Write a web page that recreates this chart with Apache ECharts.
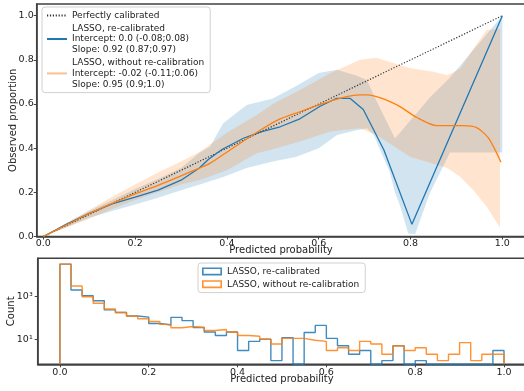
<!DOCTYPE html>
<html><head><meta charset="utf-8">
<script src="https://cdn.jsdelivr.net/npm/echarts@6/dist/echarts.min.js"></script>
<style>html,body{margin:0;padding:0;background:#fff}#c{width:524px;height:391px}</style>
</head><body><div id="c"></div>
<script>
// ---------- data ----------
const probTicks = [0, 0.2, 0.4, 0.6, 0.8, 1.0];
const perfectX = [0, 1];
const perfectY = [0, 1];

const recalX = [0, 0.05, 0.1, 0.15, 0.2, 0.25, 0.3, 0.34, 0.36, 0.39, 0.436, 0.472, 0.516, 0.559, 0.603, 0.639, 0.668, 0.697, 0.742, 0.803, 1.0];
const recalY = [0, 0.055, 0.105, 0.148, 0.178, 0.21, 0.255, 0.31, 0.35, 0.395, 0.445, 0.473, 0.497, 0.533, 0.59, 0.626, 0.626, 0.575, 0.392, 0.055, 1.0];

const noRecalX = [0, 0.05, 0.1, 0.15, 0.2, 0.25, 0.3, 0.34, 0.363, 0.407, 0.458, 0.508, 0.559, 0.61, 0.646, 0.69, 0.705, 0.741, 0.777, 0.813, 0.857, 0.915, 0.944, 0.97, 0.997];
const noRecalY = [0, 0.052, 0.104, 0.15, 0.193, 0.232, 0.275, 0.31, 0.331, 0.392, 0.462, 0.525, 0.565, 0.603, 0.626, 0.641, 0.641, 0.623, 0.588, 0.54, 0.502, 0.502, 0.493, 0.445, 0.336];

const recalBandX  = [0, 0.05, 0.1, 0.15, 0.2, 0.25, 0.3, 0.341, 0.363, 0.392, 0.443, 0.5, 0.55, 0.6, 0.64, 0.68, 0.705, 0.72, 0.755, 0.766, 0.777, 0.795, 0.81, 0.842, 0.886, 1.0];
const recalBandHi = [0, 0.06, 0.115, 0.165, 0.215, 0.26, 0.31, 0.38, 0.407, 0.513, 0.596, 0.625, 0.68, 0.74, 0.755, 0.73, 0.709, 0.64, 0.49, 0.445, 0.47, 0.515, 0.55, 0.63, 0.72, 1.0];
const recalBandLo = [0, 0.042, 0.085, 0.115, 0.145, 0.175, 0.21, 0.235, 0.25, 0.27, 0.31, 0.34, 0.36, 0.4, 0.46, 0.48, 0.49, 0.46, 0.29, 0.2, 0.14, 0.014, 0.01, 0.196, 0.38, 0.38];

const noRecalBandX  = [0, 0.05, 0.1, 0.15, 0.2, 0.25, 0.3, 0.341, 0.4, 0.465, 0.5, 0.559, 0.625, 0.69, 0.726, 0.755, 0.8, 0.85, 0.88, 0.908, 0.937, 0.966, 0.995];
const noRecalBandLo = [0, 0.04, 0.08, 0.125, 0.165, 0.2, 0.235, 0.256, 0.3, 0.377, 0.395, 0.43, 0.475, 0.49, 0.46, 0.42, 0.36, 0.33, 0.31, 0.271, 0.21, 0.135, 0.04];
const noRecalBandHi = [0, 0.06, 0.12, 0.18, 0.235, 0.29, 0.34, 0.384, 0.47, 0.55, 0.6, 0.663, 0.739, 0.8, 0.81, 0.79, 0.762, 0.746, 0.73, 0.76, 0.85, 0.935, 0.94];

const binEdges = [0, 0.025, 0.05, 0.075, 0.1, 0.125, 0.15, 0.175, 0.2, 0.225, 0.25, 0.275, 0.3, 0.325, 0.35, 0.375, 0.4, 0.425, 0.45, 0.475, 0.5, 0.525, 0.55, 0.575, 0.6, 0.625, 0.65, 0.675, 0.7, 0.725, 0.75, 0.775, 0.8, 0.825, 0.85, 0.875, 0.9, 0.925, 0.95, 0.975, 1.0];
const countsRecal   = [34000, 2050, 1100, 650, 240, 180, 125, 110, 55, 47, 107, 75, 36, 22, 15, 22, 3, 8, 10, 1, 12, 0, 21, 45, 11, 5, 2, 3, 0, 1, 5, 0, 1, 0, 0, 0, 0, 0, 0, 3];
const countsNoRecal = [34000, 3200, 1000, 490, 265, 180, 125, 92, 68, 50, 35, 40, 36, 26, 29, 22, 15, 14, 10, 6, 11, 11, 9, 8, 3, 4, 3, 8, 6, 2, 5, 3, 4, 2, 1, 2, 7, 1, 2, 2];
const countTicks = [10, 1000];
const countTickLabels = ['10\u00b9', '10\u00b3'];

const legendTop = {
  perfect: 'Perfectly calibrated',
  recal: 'LASSO, re-calibrated\nIntercept: 0.0 (-0.08;0.08)\nSlope: 0.92 (0.87;0.97)',
  norecal: 'LASSO, without re-calibration\nIntercept: -0.02 (-0.11;0.06)\nSlope: 0.95 (0.9;1.0)'
};
const legendBottom = {
  hrecal: 'LASSO, re-calibrated',
  hnorecal: 'LASSO, without re-calibration'
};

// ---------- chart ----------
const FONT = 'DejaVu Sans';
const BLUE = '#1f77b4', ORANGE = '#ff7f0e';
const SPINE = '#404040';
const COUNT_MIN = 0.67, COUNT_MAX = 63500;

function pairs(xs, ys) { return xs.map((x, i) => [x, ys[i]]); }

function band(xs, lo, hi, color) {
  return {
    type: 'custom', xAxisIndex: 0, yAxisIndex: 0, silent: true, z: 1,
    data: [[xs[0], lo[0]]],
    renderItem: function (params, api) {
      if (params.dataIndex !== 0) return null;
      const pts = [];
      for (let i = 0; i < xs.length; i++) pts.push(api.coord([xs[i], hi[i]]));
      for (let i = xs.length - 1; i >= 0; i--) pts.push(api.coord([xs[i], lo[i]]));
      return { type: 'polygon', shape: { points: pts }, style: { fill: color, opacity: 0.2 } };
    }
  };
}

function steps(counts) {
  const v = c => (c > 0 ? c : COUNT_MIN);
  const d = [[binEdges[0], COUNT_MIN]];
  for (let i = 0; i < counts.length; i++) d.push([binEdges[i], v(counts[i])]);
  d.push([binEdges[counts.length], v(counts[counts.length - 1])]);
  d.push([binEdges[counts.length], COUNT_MIN]);
  return d;
}

const txt = { fontFamily: FONT, fontSize: 9.5, color: '#222' };
const nameTxt = { fontFamily: FONT, fontSize: 10, color: '#222' };
const rectIcon = 'path://M0,0L20,0L20,8L0,8Z M1.6,1.6L1.6,6.4L18.4,6.4L18.4,1.6Z';
const noSym = { opacity: 0 };

const option = {
  animation: false,
  backgroundColor: '#fff',
  textStyle: { fontFamily: FONT },
  grid: [
    { left: 36.7, top: 4, width: 488.6, height: 232.5, containLabel: false, outerBoundsMode: 'none', show: true, borderColor: SPINE, borderWidth: 1.5, backgroundColor: 'transparent' },
    { left: 37.7, top: 258.3, width: 488.5, height: 106, containLabel: false, outerBoundsMode: 'none', show: true, borderColor: SPINE, borderWidth: 1.5, backgroundColor: 'transparent' }
  ],
  xAxis: [
    {
      type: 'value', gridIndex: 0, min: -0.0144, max: 1.05,
      axisLine: { show: true, onZero: false, lineStyle: { color: SPINE, width: 1.5 } },
      axisTick: { show: true, customValues: probTicks, length: 3, lineStyle: { color: SPINE } },
      axisLabel: Object.assign({ customValues: probTicks, margin: 2.5, formatter: v => v.toFixed(1) }, txt),
      splitLine: { show: false },
      name: 'Predicted probability', nameLocation: 'middle', nameGap: 8.5, nameMoveOverlap: false, nameTextStyle: nameTxt
    },
    {
      type: 'value', gridIndex: 1, min: -0.05, max: 1.05,
      axisLine: { show: true, onZero: false, lineStyle: { color: SPINE, width: 1.5 } },
      axisTick: { show: true, customValues: probTicks, length: 3, lineStyle: { color: SPINE } },
      axisLabel: Object.assign({ customValues: probTicks, margin: 3, formatter: v => v.toFixed(1) }, txt),
      splitLine: { show: false },
      name: 'Predicted probability', nameLocation: 'middle', nameGap: 10.5, nameMoveOverlap: false, nameTextStyle: nameTxt
    }
  ],
  yAxis: [
    {
      type: 'value', gridIndex: 0, min: 0, max: 1.053,
      axisLine: { show: true, onZero: false, lineStyle: { color: SPINE, width: 1.5 } },
      axisTick: { show: true, customValues: probTicks, length: 3, lineStyle: { color: SPINE } },
      axisLabel: Object.assign({ customValues: probTicks, margin: 3, formatter: v => v.toFixed(1) }, txt),
      splitLine: { show: false },
      name: 'Observed proportion', nameLocation: 'middle', nameGap: 18, nameRotate: 90, nameMoveOverlap: false, nameTextStyle: nameTxt
    },
    {
      type: 'log', logBase: 10, gridIndex: 1, min: COUNT_MIN, max: COUNT_MAX,
      axisLine: { show: true, onZero: false, lineStyle: { color: SPINE, width: 1.5 } },
      axisTick: { show: true, customValues: countTicks, length: 3, lineStyle: { color: SPINE } },
      axisLabel: Object.assign({ customValues: countTicks, margin: 5,
        formatter: v => { const i = countTicks.findIndex(t => Math.abs(t - v) < 1e-6 * t); return i >= 0 ? countTickLabels[i] : ''; } }, txt),
      splitLine: { show: false },
      name: 'Count', nameLocation: 'middle', nameGap: 21, nameRotate: 90, nameMoveOverlap: false, nameTextStyle: nameTxt
    }
  ],
  legend: [
    {
      data: [
        { name: 'perfect', itemStyle: noSym },
        { name: 'recal', itemStyle: noSym },
        { name: 'norecal', itemStyle: noSym, lineStyle: { color: '#ffc08f', width: 2, opacity: 1 } }
      ],
      formatter: n => legendTop[n],
      orient: 'vertical', left: 42, top: 7, itemWidth: 20, itemHeight: 10, itemGap: 2,
      padding: [3, 6, 3, 4], selectedMode: false,
      backgroundColor: 'rgba(255,255,255,0.85)', borderColor: '#d0d0d0', borderWidth: 1, borderRadius: 3,
      textStyle: { fontFamily: FONT, fontSize: 9, color: '#222', lineHeight: 10.8 }
    },
    {
      data: [
        { name: 'hrecal', icon: rectIcon, itemStyle: { color: BLUE, opacity: 0.85, borderWidth: 0 } },
        { name: 'hnorecal', icon: rectIcon, itemStyle: { color: ORANGE, opacity: 0.85, borderWidth: 0 } }
      ],
      formatter: n => legendBottom[n],
      orient: 'vertical', left: 198, top: 263, itemWidth: 20, itemHeight: 8, itemGap: 2,
      padding: [3, 6, 3, 4], selectedMode: false,
      backgroundColor: 'rgba(255,255,255,0.85)', borderColor: '#d0d0d0', borderWidth: 1, borderRadius: 3,
      textStyle: { fontFamily: FONT, fontSize: 9, color: '#222', lineHeight: 10.8 }
    }
  ],
  series: [
    band(recalBandX, recalBandLo, recalBandHi, BLUE),
    band(noRecalBandX, noRecalBandLo, noRecalBandHi, ORANGE),
    {
      name: 'perfect', type: 'line', xAxisIndex: 0, yAxisIndex: 0, data: pairs(perfectX, perfectY),
      symbol: 'none', showSymbol: false, z: 3, color: '#333',
      lineStyle: { color: '#333', width: 1.2, type: [1.2, 1.7] }
    },
    {
      name: 'recal', type: 'line', xAxisIndex: 0, yAxisIndex: 0, data: pairs(recalX, recalY),
      symbol: 'none', showSymbol: false, z: 4, color: BLUE,
      lineStyle: { color: BLUE, width: 1.3 }
    },
    {
      name: 'norecal', type: 'line', xAxisIndex: 0, yAxisIndex: 0, data: pairs(noRecalX, noRecalY),
      symbol: 'none', showSymbol: false, z: 4, color: ORANGE, smooth: 0.25,
      lineStyle: { color: ORANGE, width: 1.3 }
    },
    {
      name: 'hrecal', type: 'line', xAxisIndex: 1, yAxisIndex: 1, data: steps(countsRecal),
      step: 'end', symbol: 'none', showSymbol: false, z: 3, color: BLUE,
      lineStyle: { color: BLUE, width: 1.4, opacity: 0.85 }
    },
    {
      name: 'hnorecal', type: 'line', xAxisIndex: 1, yAxisIndex: 1, data: steps(countsNoRecal),
      step: 'end', symbol: 'none', showSymbol: false, z: 4, color: ORANGE,
      lineStyle: { color: ORANGE, width: 1.4, opacity: 0.85 }
    }
  ]
};

const chart = echarts.init(document.getElementById('c'), null, { renderer: 'canvas' });
chart.setOption(option);
</script>
</body></html>
